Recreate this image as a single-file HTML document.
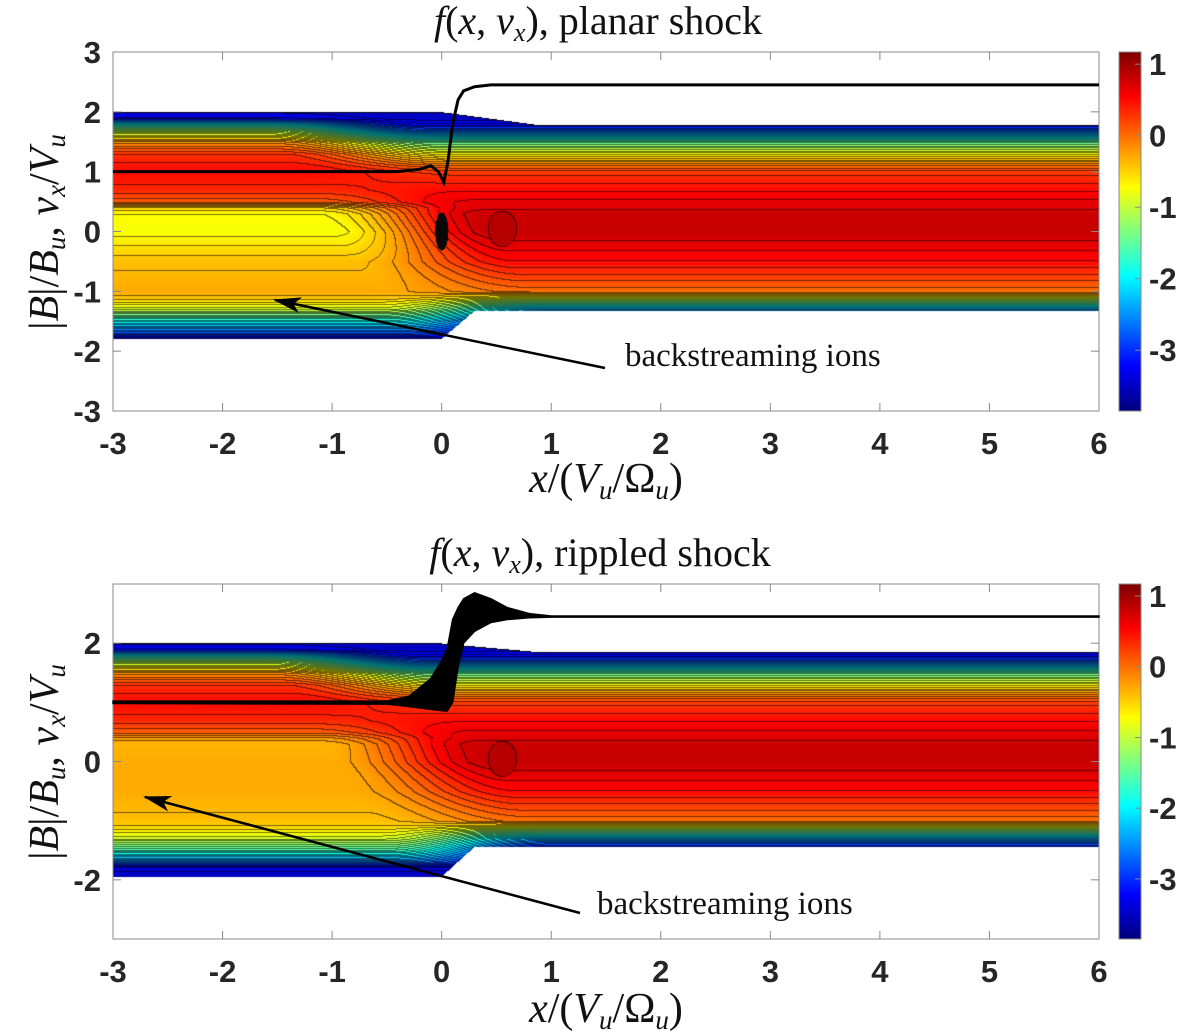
<!DOCTYPE html>
<html><head><meta charset="utf-8">
<style>
body{margin:0;background:#fff;width:1200px;height:1035px;position:relative;overflow:hidden;font-family:"Liberation Sans",sans-serif}
canvas{position:absolute}
svg{position:absolute;left:0;top:0}
.tk{font-family:"Liberation Sans",sans-serif;font-weight:bold;font-size:31px;fill:#262626}
.ser{font-family:"Liberation Serif",serif;font-size:40px;fill:#111}
.ax{font-family:"Liberation Serif",serif;font-size:42px;fill:#111}
</style></head><body>
<canvas id="c1" style="left:113px;top:52px" width="986" height="359"></canvas>
<canvas id="c2" style="left:113px;top:584px" width="986" height="355"></canvas>
<canvas id="cb1" style="left:1119px;top:52px" width="22" height="359"></canvas>
<canvas id="cb2" style="left:1119px;top:584px" width="22" height="355"></canvas>
<svg id="ov" width="1200" height="1035"></svg>
<script>
// ---- data ----
const vSamples   = [-2.0,-1.8,-1.7,-1.5,-1.3,-1.1,-1.0,-0.5,0.0,0.3,0.4,0.5,0.7,1.0,1.1,1.3,1.5,1.7,1.8,1.9,2.1];
const upPlanar   = [-3.6,-3.4,-2.8,-1.9,-0.9,-0.4,-0.3,-0.4,-0.75,-0.7,-0.5,0.1,0.35,0.5,0.45,0.3,-0.2,-1.2,-2.0,-3.3,-3.6];
const upRippled  = [-3.6,-3.4,-2.6,-1.6,-0.9,-0.5,-0.4,-0.3,-0.3,-0.35,-0.2,0.1,0.35,0.5,0.45,0.3,-0.2,-1.2,-2.0,-3.3,-3.6];
const dnProfile  = [-3.6,-3.5,-3.5,-3.4,-2.3,-0.7,0.0,0.5,0.82,0.8,0.7,0.65,0.5,0.25,0.0,-0.7,-1.5,-2.8,-3.3,-3.5,-3.6];
const bandPlanar = {upLo:-1.8, upHi:2.0, dnLo:-1.33, dnHi:1.78};
const bandRippled= {upLo:-1.95, upHi:2.0, dnLo:-1.45, dnHi:1.85};
const bX  = [-3,-0.4,-0.2,-0.1,-0.03,0.02,0.06,0.1,0.15,0.2,0.3,0.45,0.7,6];
const bY  = [1.0,1.0,1.04,1.1,1.0,0.82,1.2,1.8,2.2,2.35,2.42,2.45,2.45,2.45];
const rX  = [-3,-0.5,-0.3,-0.1,0.0,0.05,0.1,0.15,0.2,0.3,0.45,0.6,0.8,1.0,6];
const rUp = [1.02,1.02,1.1,1.4,1.7,1.9,2.4,2.6,2.75,2.85,2.75,2.6,2.5,2.46,2.46];
const rLo = [0.98,0.97,0.93,0.88,0.86,0.85,1.0,1.6,2.0,2.2,2.35,2.4,2.43,2.44,2.44];
const xTicks=[-3,-2,-1,0,1,2,3,4,5,6];
const cbTicks=[1,0,-1,-2,-3];
const CMIN=-3.85, CMAX=1.17;

function interp(xs,ys,x){if(x<=xs[0])return ys[0];for(let i=1;i<xs.length;i++){if(x<=xs[i]){const t=(x-xs[i-1])/(xs[i]-xs[i-1]);return ys[i-1]+t*(ys[i]-ys[i-1]);}}return ys[ys.length-1];}
function clamp(a){return a<0?0:a>1?1:a;}
function sm(a,b,x){const t=clamp((x-a)/(b-a));return t*t*(3-2*t);}
function jet(val){const t=clamp((val-CMIN)/(CMAX-CMIN));return [clamp(1.5-Math.abs(4*t-3)),clamp(1.5-Math.abs(4*t-2)),clamp(1.5-Math.abs(4*t-1))].map(c=>Math.round(c*255));}

function drawMap(id,up,band,vmin,vmax,planar){
  const cv=document.getElementById(id),ctx=cv.getContext('2d'),W=cv.width,H=cv.height;
  const img=ctx.createImageData(W,H),grid=new Float32Array(W*H),blk=new Uint8Array(W*H);
  for(let j=0;j<H;j++){const v=vmax-(j/(H-1))*(vmax-vmin);
    for(let i=0;i<W;i++){const x=-3+9*i/(W-1);
      const tb=clamp(x/0.9);
      const lo=band.upLo+(band.dnLo-band.upLo)*clamp((x-0.0)/0.3);
      const hi=band.upHi+(band.dnHi-band.upHi)*tb;
      if(v<lo||v>hi){grid[j*W+i]=NaN;continue;}
      const t=sm(-0.9,0.6,x+0.35*(v+0.3));
      let val=interp(vSamples,up,v)*(1-t)+interp(vSamples,dnProfile,v)*t;
      const ox=(x-0.55)/0.13,oy=(v-0.05)/0.3;if(ox*ox+oy*oy<1)val=Math.max(val,0.9);
      if(planar){const bx=(x-0.0)/0.06,by=v/0.32;if(bx*bx+by*by<1)blk[j*W+i]=1;}
      grid[j*W+i]=val;}}
  const STEP=0.11;
  for(let j=0;j<H;j++)for(let i=0;i<W;i++){const k=j*W+i,p=k*4,val=grid[k];
    if(isNaN(val)){img.data[p]=img.data[p+1]=img.data[p+2]=255;img.data[p+3]=255;continue;}
    let c=jet(val);
    if(blk[k])c=[10,10,10];
    const lv=Math.floor((val+4)/STEP);
    const nb=[i>0?grid[k-1]:val,j>0?grid[k-W]:val];
    for(const n of nb){if(isNaN(n)){c=c.map(q=>q*0.1);break;}if(Math.floor((n+4)/STEP)!==lv){c=c.map(q=>q*0.45);break;}}
    img.data[p]=c[0];img.data[p+1]=c[1];img.data[p+2]=c[2];img.data[p+3]=255;}
  ctx.putImageData(img,0,0);
}
drawMap('c1',upPlanar,bandPlanar,-3,3,true);
drawMap('c2',upRippled,bandRippled,-3,3,false);
function drawCB(id){const cv=document.getElementById(id),ctx=cv.getContext('2d');
  for(let j=0;j<cv.height;j++){const val=CMAX-(j/(cv.height-1))*(CMAX-CMIN);const c=jet(val);ctx.fillStyle=`rgb(${c[0]},${c[1]},${c[2]})`;ctx.fillRect(0,j,cv.width,1);}}
drawCB('cb1');drawCB('cb2');

const NS='http://www.w3.org/2000/svg',svg=document.getElementById('ov');
function el(tag,attrs,txt){const e=document.createElementNS(NS,tag);for(const k in attrs)e.setAttribute(k,attrs[k]);if(txt!==undefined)e.textContent=txt;svg.appendChild(e);return e;}

function panel(top,h,yTicks,isTop){
  const L=113,W=986;
  const sx=x=>L+(x+3)/9*W, sy=v=>top+(3-v)/6*h;
  const box=el('rect',{x:L,y:top,width:W,height:h,fill:'none',stroke:'#888','stroke-width':1});
  
  
  xTicks.forEach(t=>{
    el('line',{x1:sx(t),x2:sx(t),y1:top,y2:top+8,stroke:'#888'});
    el('line',{x1:sx(t),x2:sx(t),y1:top+h,y2:top+h-8,stroke:'#888'});
    const lb=el('text',{x:sx(t),y:top+h+43,'text-anchor':'middle',class:'tk'},String(t));
    
    
  });
  yTicks.forEach(t=>{
    el('line',{x1:L,x2:L+8,y1:sy(t),y2:sy(t),stroke:'#888'});
    el('line',{x1:L+W,x2:L+W-8,y1:sy(t),y2:sy(t),stroke:'#888'});
    const lb=el('text',{x:L-12,y:sy(t)+11,'text-anchor':'end',class:'tk'},String(t));
    
    
  });
  if(isTop){
    let d='';bX.forEach((x,i)=>{d+=(i?'L':'M')+sx(x)+','+sy(bY[i]);});
    const p=el('path',{d:d,fill:'none',stroke:'#000','stroke-width':3});
    
    
  } else {
    let d='';rX.forEach((x,i)=>{d+=(i?'L':'M')+sx(x)+','+sy(rUp[i]);});
    for(let i=rX.length-1;i>=0;i--)d+='L'+sx(rX[i])+','+sy(rLo[i]);
    const p=el('path',{d:d+'Z',fill:'#000',stroke:'#000','stroke-width':1.5});
    
    
  }
  el('rect',{x:1119,y:top,width:22,height:h,fill:'none',stroke:'#888'});
  cbTicks.forEach(t=>{const y=top+(CMAX-t)/(CMAX-CMIN)*h;
    el('line',{x1:1135,x2:1141,y1:y,y2:y,stroke:'#888'});
    const lb=el('text',{x:1149,y:y+11,class:'tk'},String(t));
    
    });
}
panel(52,359,[-3,-2,-1,0,1,2,3],true);
panel(584,355,[-2,0,2],false);
</script>
<svg width="1200" height="1035" style="pointer-events:none">
<defs><marker id="ah2" markerUnits="userSpaceOnUse" markerWidth="30" markerHeight="20" refX="26" refY="8" orient="auto"><path d="M0,0 L28,8 L0,16 L7,8 Z" fill="#000"/></marker></defs>
<text x="598" y="34" text-anchor="middle" class="ser"><tspan font-style="italic">f</tspan>(<tspan font-style="italic">x</tspan>, <tspan font-style="italic">v<tspan font-size="26" dy="7">x</tspan></tspan><tspan dy="-7">), planar shock</tspan></text>
<text x="600" y="566" text-anchor="middle" class="ser"><tspan font-style="italic">f</tspan>(<tspan font-style="italic">x</tspan>, <tspan font-style="italic">v<tspan font-size="26" dy="7">x</tspan></tspan><tspan dy="-7">), rippled shock</tspan></text>
<text x="606" y="492" text-anchor="middle" class="ax"><tspan font-style="italic">x</tspan>/(<tspan font-style="italic">V<tspan font-size="27" dy="7">u</tspan></tspan><tspan dy="-7">/Ω</tspan><tspan font-size="27" dy="7" font-style="italic">u</tspan><tspan dy="-7">)</tspan></text>
<text x="606" y="1022" text-anchor="middle" class="ax"><tspan font-style="italic">x</tspan>/(<tspan font-style="italic">V<tspan font-size="27" dy="7">u</tspan></tspan><tspan dy="-7">/Ω</tspan><tspan font-size="27" dy="7" font-style="italic">u</tspan><tspan dy="-7">)</tspan></text>
<text transform="translate(58,232) rotate(-90)" text-anchor="middle" class="ax">|<tspan font-style="italic">B</tspan>|/<tspan font-style="italic">B<tspan font-size="27" dy="7">u</tspan></tspan><tspan dy="-7">, </tspan><tspan font-style="italic">v<tspan font-size="27" dy="7">x</tspan></tspan><tspan dy="-7">/</tspan><tspan font-style="italic">V</tspan><tspan font-size="27" dy="7" font-style="italic">u</tspan></text>
<text transform="translate(58,762) rotate(-90)" text-anchor="middle" class="ax">|<tspan font-style="italic">B</tspan>|/<tspan font-style="italic">B<tspan font-size="27" dy="7">u</tspan></tspan><tspan dy="-7">, </tspan><tspan font-style="italic">v<tspan font-size="27" dy="7">x</tspan></tspan><tspan dy="-7">/</tspan><tspan font-style="italic">V</tspan><tspan font-size="27" dy="7" font-style="italic">u</tspan></text>
<line x1="605" y1="368" x2="275" y2="300" stroke="#000" stroke-width="2.5" marker-end="url(#ah2)"/>
<text x="625" y="366" font-family="Liberation Serif, serif" font-size="33" fill="#111">backstreaming ions</text>
<line x1="580" y1="913" x2="145" y2="797" stroke="#000" stroke-width="2.5" marker-end="url(#ah2)"/>
<text x="597" y="914" font-family="Liberation Serif, serif" font-size="33" fill="#111">backstreaming ions</text>
</svg>
</body></html>
